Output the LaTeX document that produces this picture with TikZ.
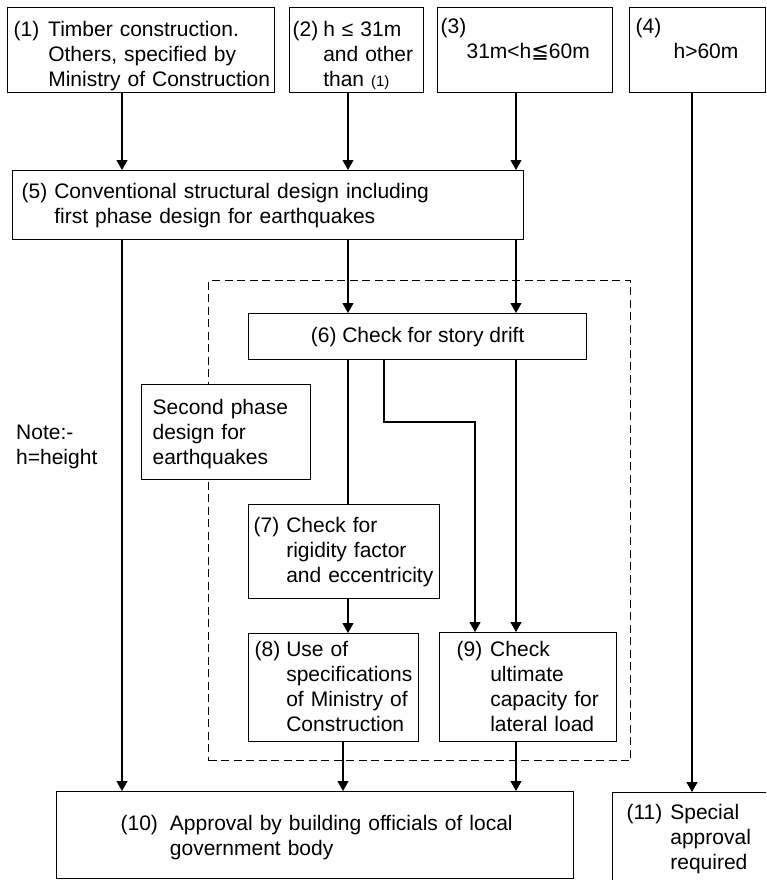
\documentclass[tikz,border=0pt]{standalone}
\usepackage{fontspec}
\setmainfont{Liberation Sans}
\newfontfamily\symfont{DejaVu Sans}
\usetikzlibrary{arrows.meta}
% numbered entry: number, then the lines of text hanging after it
\newcommand{\numbered}[3][8pt]{%
  \begin{tabular}[t]{@{}l@{\hspace{#1}}l@{}}#2 &
    \begin{tabular}[t]{@{}l@{}}#3\end{tabular}\end{tabular}}
\tikzset{
    % boxes of the procedure
    box/.style={draw, fill=white, line width=1.2pt, anchor=north west,
                inner ysep=0pt, align=left},
    % connectors
    flow/.style={draw, line width=1.2pt, -{Triangle[length=10pt,width=11pt]}},
    link/.style={draw, line width=1.2pt},
    % frame round the second phase
    zone/.style={draw, dash pattern=on 8pt off 4.5pt, line width=1pt,
                 anchor=north west, inner sep=0pt}
}
\begin{document}
\begin{tikzpicture}[x=1pt, y=-1pt, font=\fontsize{21}{25}\selectfont]
    \useasboundingbox (0,0) rectangle (766,880);
    \clip (0,0) rectangle (766,880);

    \node[zone, minimum width=422pt, minimum height=480pt] (phase) at (208,280) {};

    % starting cases
    \node[box, inner xsep=6pt, text width=255pt, text height=29pt, text depth=56pt] (b1) at (7,7)
        {\numbered[9pt]{(1)}{Timber construction.\\Others, specified by\\Ministry of Construction}};
    \node[box, inner xsep=3pt, text width=128pt, text height=29pt, text depth=56pt] (b2) at (289,7)
        {\numbered[5pt]{(2)}{h ≤ 31m\\and other\\than {\fontsize{15}{15}\selectfont(1)}}};
    \node[box, inner xsep=3pt, text width=169pt, text height=26pt, text depth=59pt] (b3) at (437,7)
        {(3)\\\hspace*{26pt}31m<h{\symfont ≦}60m};
    \node[box, inner xsep=6pt, text width=124pt, text height=26pt, text depth=59pt] (b4) at (629,7)
        {(4)\\\hspace*{38pt}h>60m};

    \node[box, inner xsep=9pt, text width=493pt, text height=28pt, text depth=41pt] (b5) at (12,170)
        {\numbered[7pt]{(5)}{Conventional structural design including\\first phase design for earthquakes}};

    % second phase
    \node[box, align=center, inner xsep=0pt, minimum width=338pt, minimum height=46pt] (b6) at (248,313)
        {(6) Check for story drift};
    \node[box, inner xsep=11pt, text width=147pt, text height=30pt, text depth=65pt] (second) at (141,384)
        {Second phase\\design for\\earthquakes};
    \node[anchor=base west, inner sep=0pt, text width=90pt, align=left] (note) at (16,439)
        {Note:-\\h=height};
    \node[box, inner xsep=5pt, text width=181pt, text height=28pt, text depth=66pt] (b7) at (248,504)
        {\numbered[7pt]{(7)}{Check for\\rigidity factor\\and eccentricity}};
    \node[box, inner xsep=6pt, text width=158pt, text height=23pt, text depth=85pt] (b8) at (248,633)
        {\numbered[6pt]{(8)}{Use of\\specifications\\of Ministry of\\Construction}};
    \node[box, inner xsep=17pt, text width=143pt, text height=24pt, text depth=85pt] (b9) at (439,632)
        {\numbered[8pt]{(9)}{Check\\ultimate\\capacity for\\lateral load}};

    % approvals
    \node[box, inner xsep=64pt, text width=389pt, text height=39pt, text depth=48pt] (b10) at (56,791)
        {\numbered[12pt]{(10)}{Approval by building officials of local\\government body}};
    \node[box, inner xsep=14pt, text width=160pt, text height=27pt, text depth=100pt] (b11) at (612,792)
        {\numbered[8pt]{(11)}{Special\\approval\\required}};

    % vertical lanes of the connectors
    \coordinate (lane1) at (122,0);
    \coordinate (lane2) at (348,0);
    \coordinate (lane3) at (516,0);
    \coordinate (lane4) at (692,0);
    \coordinate (lane5) at (475,0);
    \coordinate (lane6) at (343,0);
    \coordinate (kink) at (384,422);

    \draw[flow] (b1.south -| lane1) -- (b5.north -| lane1);
    \draw[flow] (b2.south -| lane2) -- (b5.north -| lane2);
    \draw[flow] (b3.south -| lane3) -- (b5.north -| lane3);
    \draw[flow] (b4.south -| lane4) -- (b11.north -| lane4);
    \draw[flow] (b5.south -| lane1) -- (b10.north -| lane1);
    \draw[flow] (b5.south -| lane2) -- (b6.north -| lane2);
    \draw[flow] (b5.south -| lane3) -- (b6.north -| lane3);
    \draw[link] (b6.south -| lane2) -- (b7.north -| lane2);
    \draw[flow] (b6.south -| kink) -- (kink) -| (b9.north -| lane5);
    \draw[flow] (b6.south -| lane3) -- (b9.north -| lane3);
    \draw[flow] (b7.south -| lane2) -- (b8.north -| lane2);
    \draw[flow] (b8.south -| lane6) -- (b10.north -| lane6);
    \draw[flow] (b9.south -| lane3) -- (b10.north -| lane3);
\end{tikzpicture}
\end{document}
